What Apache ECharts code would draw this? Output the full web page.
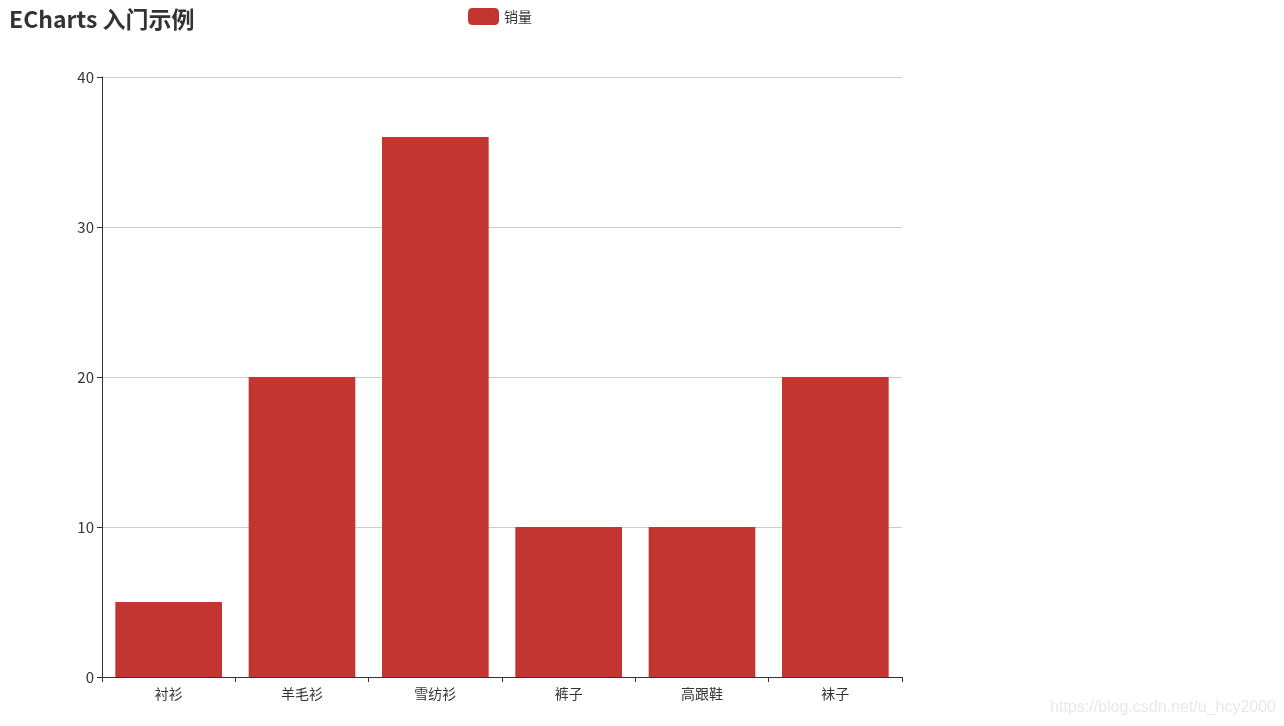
<!DOCTYPE html>
<html>
<head>
<meta charset="utf-8">
<script src="https://cdn.jsdelivr.net/npm/echarts@6/dist/echarts.min.js"></script>
<style>html,body{margin:0;padding:0;background:#fff;}#main{width:1284px;height:726px;}</style>
</head>
<body>
<div id="main"></div>
<script>
const categories = ['衬衫', '羊毛衫', '雪纺衫', '裤子', '高跟鞋', '袜子'];
const salesValues = [5, 20, 36, 10, 10, 20];
const seriesName = '销量';
const titleText = 'ECharts 入门示例';
const watermarkText = 'https://blog.csdn.net/u_hcy2000';

const font = '"Noto Sans CJK SC", "Microsoft YaHei", sans-serif';
const chart = echarts.init(document.getElementById('main'));
chart.setOption({
  animation: false,
  title: {
    text: titleText,
    left: 4, top: 3,
    textStyle: { fontSize: 23, fontWeight: 'bold', color: '#333', fontFamily: font }
  },
  legend: {
    data: [seriesName],
    left: 463, top: 3,
    itemWidth: 31, itemHeight: 17, itemGap: 10,
    icon: 'roundRect',
    textStyle: { fontSize: 14, color: '#333', fontFamily: font }
  },
  grid: { left: 102, right: 382, top: 77, bottom: 49, containLabel: false },
  xAxis: {
    type: 'category',
    data: categories,
    axisLine: { lineStyle: { color: '#333' } },
    axisTick: { show: true, lineStyle: { color: '#333' } },
    axisLabel: { color: '#333', fontSize: 14, fontFamily: font, margin: 10 }
  },
  yAxis: {
    type: 'value',
    min: 0, max: 40, interval: 10,
    axisLine: { show: true, lineStyle: { color: '#333' } },
    axisTick: { show: true, lineStyle: { color: '#333' } },
    axisLabel: { color: '#333', fontSize: 15, fontFamily: font },
    splitLine: { lineStyle: { color: '#ccc' } }
  },
  series: [{
    name: seriesName,
    type: 'bar',
    data: salesValues,
    barCategoryGap: '20%',
    itemStyle: { color: '#c23531' }
  }],
  graphic: [{
    type: 'text',
    right: 8, bottom: 10,
    style: { text: watermarkText, fill: '#e8e8e8', fontSize: 16, fontFamily: 'Liberation Sans, Arial, sans-serif' }
  }]
});
</script>
</body>
</html>
